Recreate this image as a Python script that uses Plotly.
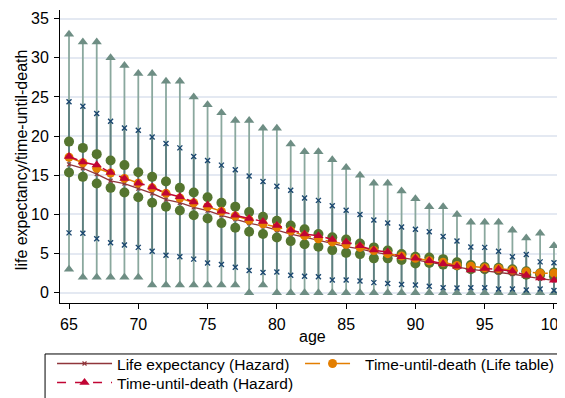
import plotly.graph_objects as go

ages = list(range(65, 101))

tri_hi = [33, 32, 32, 30, 29, 28, 28, 27, 27, 25, 24, 23, 22, 22, 21, 21, 19, 18, 18, 17,
          16, 15, 14, 14, 13, 12, 11, 11, 10, 9, 9, 9, 8, 7, 7.6, 6]
tri_lo = [3, 2, 2, 2, 2, 2, 1, 1, 1, 1, 1, 1, 1, 0, 1, 0, 0, 0, 0, 0,
          0, 0, 0, 0, 0, 0, 0, 0, 0, 0, 0, 0, 0, 0, 0, 0]
x_hi = [24.4, 23.8, 22.9, 21.9, 21.05, 20.75, 19.9, 19.05, 18.5, 17.4, 16.9, 16.3, 15.7, 14.9,
        14.2, 13.6, 13.1, 12.1, 11.8, 11.1, 10.55, 10.0, 9.3, 8.9, 8.4, 8.1, 7.8, 7.2, 6.6,
        5.85, 5.8, 5.3, 4.6, 4.9, 3.95, 3.85]
x_lo = [7.65, 7.6, 6.9, 6.4, 6.1, 5.8, 5.3, 4.8, 4.6, 4.3, 3.8, 3.6, 3.25, 2.85, 2.6, 2.65,
        2.25, 2.1, 2.05, 1.65, 1.65, 1.5, 1.3, 1.2, 1.05, 1.0, 0.85, 0.65, 0.6, 0.65, 0.65,
        0.5, 0.5, 0.35, 0.5, 0.3]
c_hi = [19.3, 18.5, 17.7, 16.9, 16.3, 15.4, 14.8, 14.2, 13.4, 12.8, 12.2, 11.5, 11.0, 10.3,
        9.7, 9.2, 8.6, 8.1, 7.5, 7.1, 6.8, 6.3, 5.8, 5.4, 4.95, 4.6, 4.5, 4.3, 3.9, 3.55,
        3.3, 3.2, 3.0, 2.75, 2.5, 2.6]
c_lo = [15.35, 14.8, 13.95, 13.4, 12.8, 12.2, 11.5, 11.0, 10.5, 9.9, 9.5, 8.9, 8.3, 7.8,
        7.5, 7.07, 6.6, 6.2, 5.87, 5.45, 5.1, 4.94, 4.4, 4.4, 4.2, 3.75, 3.8, 3.6, 3.5, 3.0,
        3.0, 2.9, 2.75, 2.3, 2.3, 2.1]
tud_hazard = [17.4, 16.7, 16.3, 15.35, 14.6, 14.0, 13.5, 12.7, 12.25, 11.6, 11.2, 10.4, 9.9,
              9.5, 9.1, 8.6, 8.0, 7.5, 7.3, 6.8, 6.5, 6.0, 5.45, 5.2, 4.6, 4.4, 4.1, 3.7,
              3.4, 2.9, 3.1, 3.0, 2.75, 2.25, 1.9, 1.6]
tud_lifetable = [17.3, 16.6, 15.9, 15.3, 14.6, 14.0, 13.4, 12.7, 12.1, 11.5, 11.0, 10.4, 9.8,
                 9.3, 8.8, 8.4, 7.9, 7.3, 6.9, 6.5, 6.2, 5.8, 5.4, 5.0, 4.7, 4.4, 4.1, 3.9,
                 3.5, 3.4, 3.2, 3.1, 2.9, 2.7, 2.5, 2.5]
lifeexp_hazard = [16.4, 15.9, 15.15, 14.3, 13.95, 13.3, 12.7, 11.9, 11.5, 10.9, 10.5, 9.9,
                  9.4, 8.9, 8.5, 8.0, 7.5, 7.1, 6.7, 6.3, 5.9, 5.6, 5.2, 4.9, 4.5, 4.2, 3.9,
                  3.6, 3.3, 3.0, 2.8, 2.6, 2.4, 2.1, 1.8, 1.6]

TEAL = "#6e8e84"
NAVY = "#1a476f"
GREEN = "#55752f"
MAROON = "#90353b"
ORANGE = "#e37e00"
CRAN = "#c10534"
FONT = "Liberation Sans, Arial, sans-serif"


def seg(lo, hi):
    xs, ys = [], []
    for a, l, h in zip(ages, lo, hi):
        xs += [a, a, None]
        ys += [l, h, None]
    return xs, ys


fig = go.Figure()
sx, sy = seg(tri_lo, tri_hi)
fig.add_trace(go.Scatter(x=sx, y=sy, mode="lines", line=dict(color="#8aa89e", width=1.8),
                         showlegend=False, hoverinfo="skip"))
sx, sy = seg(x_lo, x_hi)
fig.add_trace(go.Scatter(x=sx, y=sy, mode="lines", line=dict(color="#5d7f7f", width=1.8),
                         showlegend=False, hoverinfo="skip"))
for arr in (tri_hi, tri_lo):
    fig.add_trace(go.Scatter(x=ages, y=arr, mode="markers",
                             marker=dict(symbol="triangle-up", size=9, color=TEAL),
                             showlegend=False))
for arr in (x_hi, x_lo):
    fig.add_trace(go.Scatter(x=ages, y=arr, mode="markers",
                             marker=dict(symbol="x-thin", size=5, color=NAVY,
                                         line=dict(color=NAVY, width=1.4)),
                             showlegend=False))
for arr in (c_hi, c_lo):
    fig.add_trace(go.Scatter(x=ages, y=arr, mode="markers",
                             marker=dict(symbol="circle", size=10, color=GREEN),
                             showlegend=False))

fig.add_trace(go.Scatter(x=ages, y=lifeexp_hazard, mode="lines+markers",
                         name="Life expectancy (Hazard)", legend="legend",
                         line=dict(color=MAROON, width=1.3),
                         marker=dict(symbol="x-thin", size=4, color=MAROON,
                                     line=dict(color=MAROON, width=1.2))))
fig.add_trace(go.Scatter(x=ages, y=tud_lifetable, mode="lines+markers",
                         name="Time-until-death (Life table)", legend="legend",
                         legendwidth=205,
                         line=dict(color=ORANGE, width=1.5, dash="longdash"),
                         marker=dict(symbol="circle", size=9, color=ORANGE)))
fig.add_trace(go.Scatter(x=ages, y=tud_hazard, mode="lines+markers",
                         name="Time-until-death (Hazard)", legend="legend2",
                         line=dict(color=CRAN, width=1.5, dash="dash"),
                         marker=dict(symbol="triangle-up", size=9, color=CRAN)))

# legend frame
fig.add_shape(type="rect", xref="paper", yref="paper", x0=-0.030, x1=1.2, y0=-0.5, y1=-0.174,
              line=dict(color="black", width=1), fillcolor="rgba(0,0,0,0)")

# axis titles
fig.add_annotation(text="age", xref="paper", yref="paper", x=0.508, y=-0.116,
                   xanchor="center", yanchor="middle", showarrow=False,
                   font=dict(size=16))
fig.add_annotation(text="life expectancy/time-until-death", xref="paper", yref="paper",
                   x=-0.078, y=0.488, xanchor="center", yanchor="middle", textangle=-90,
                   showarrow=False, font=dict(size=16))

leg_common = dict(orientation="h", x=-0.016, xanchor="left", yanchor="middle",
                  entrywidth=178, font=dict(size=15.5), bgcolor="rgba(0,0,0,0)",
                  tracegroupgap=0, itemwidth=55)

fig.update_layout(
    width=557, height=390,
    margin=dict(l=52, r=7, t=2, b=95, autoexpand=False),
    paper_bgcolor="white", plot_bgcolor="white",
    font=dict(family=FONT, size=16, color="black"),
    showlegend=True,
    legend=dict(y=-0.208, **leg_common),
    legend2=dict(y=-0.273, **leg_common),
    xaxis=dict(range=[64.35, 100.29], tickvals=[65, 70, 75, 80, 85, 90, 95, 100],
               showgrid=False, zeroline=False, showline=True, linecolor="black", linewidth=1,
               ticks="outside", ticklen=5, tickcolor="black", automargin=False,
               ticklabeloverflow="allow", ticklabelstandoff=2, tickfont=dict(size=16)),
    yaxis=dict(range=[-1.3, 36.1], tickvals=[0, 5, 10, 15, 20, 25, 30, 35],
               showgrid=True, gridcolor="#e4e9f2", gridwidth=1.5, zeroline=False,
               showline=True, linecolor="black", linewidth=1,
               ticks="outside", ticklen=5, tickcolor="black", automargin=False,
               ticklabelstandoff=2, tickfont=dict(size=16)),
)

fig.write_html("out.html")
